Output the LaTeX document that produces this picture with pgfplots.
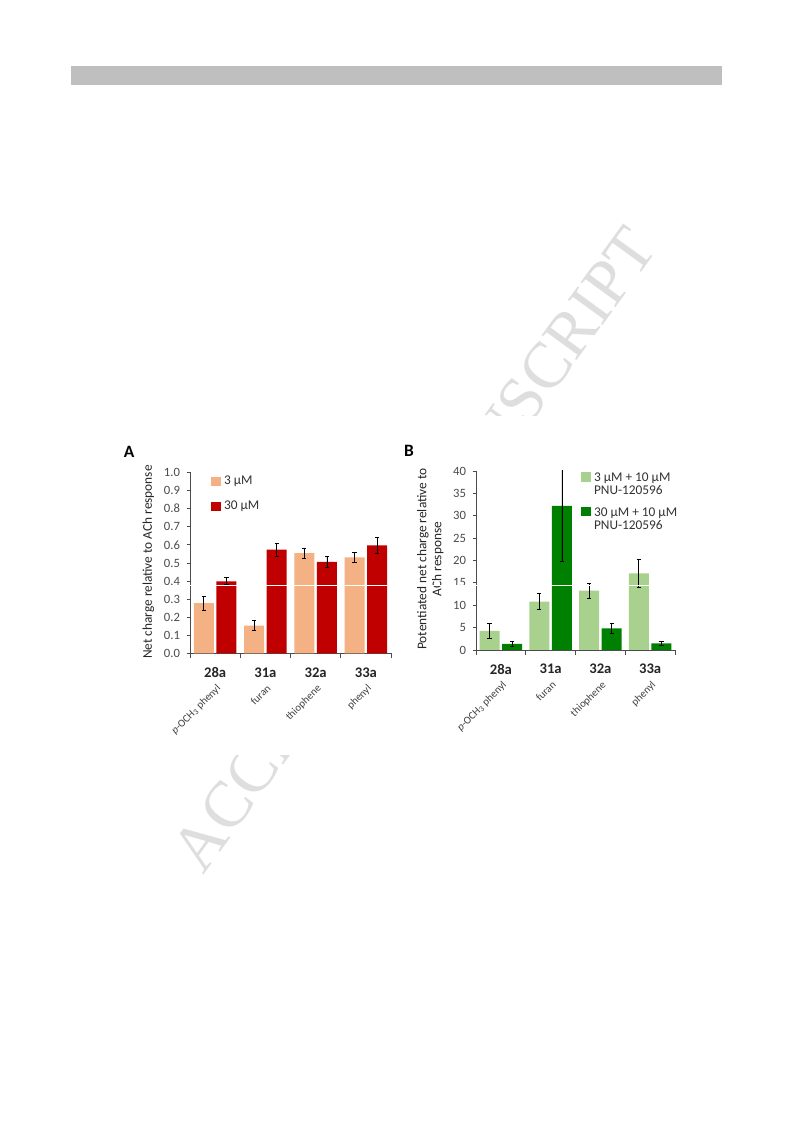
\documentclass[border=0pt]{standalone}
\usepackage{pgfplots}
\pgfplotsset{compat=1.18}
\usepackage{fontspec}
\setmainfont{Carlito}
\newfontfamily\wmfont{Liberation Serif}
\definecolor{lorange}{HTML}{F4B183}
\definecolor{dred}{HTML}{C00000}
\definecolor{lgreen}{HTML}{A9D18E}
\definecolor{dgreen}{HTML}{008000}
\pgfplotsset{
  sq/.style={legend image code/.code={\fill[##1] (0pt,-3.6pt) rectangle (7.5pt,3.6pt);}},
  errs/.style={error bars/.cd, y dir=both, y explicit,
    error bar style={black, line width=0.6pt},
    error mark options={rotate=90, mark size=1.6pt, black, line width=0.6pt}},
  panel/.style={
    anchor=south west, scale only axis, ybar,
    xmin=-0.5, xmax=3.5, ymin=0,
    axis x line*=bottom, axis y line*=left,
    axis line style={black!70, line width=0.6pt},
    tick align=outside,
    major tick length=2.5pt, minor tick length=3.5pt,
    major x tick style={draw=none},
    minor x tick style={black!70, line width=0.6pt},
    y tick style={black!70, line width=0.6pt},
    xtick={0,1,2,3}, xticklabels={28a,31a,32a,33a},
    minor xtick={-0.5,0.5,1.5,2.5,3.5},
    xticklabel style={font=\bfseries\fontsize{11}{13}\selectfont, text=black!85, yshift=-4.5pt},
    yticklabel style={font=\fontsize{9.5}{11}\selectfont, text=black!70, xshift=-1.5pt},
    /pgf/number format/assume math mode=true,
    extra x ticks={0,1,2,3},
    extra x tick labels={{\textit{p}-OCH\textsubscript{3} phenyl}, furan, thiophene, phenyl},
    extra x tick style={major tick length=0pt, xticklabel style={xshift=0.5pt, yshift=-18pt, rotate=45, anchor=north east, inner sep=0pt, font=\mdseries\fontsize{8}{9}\selectfont, text=black!75}},
    ylabel style={font=\fontsize{10}{11.25}\selectfont, text=black!85, anchor=center, align=center},
    legend style={draw=none, fill=none, inner sep=0pt, font=\fontsize{10}{12}\selectfont, text=black!80, anchor=north west},
    legend cell align=left,
  }
}
\pgfplotstableread{
x y e
0 0.278 0.038
1 0.154 0.028
2 0.555 0.028
3 0.531 0.025
}\Alight
\pgfplotstableread{
x y e
0 0.399 0.020
1 0.574 0.037
2 0.506 0.030
3 0.597 0.043
}\Adark
\pgfplotstableread{
x y e
0 4.25 1.6
1 10.8 1.75
2 13.26 1.7
3 17.13 3.05
}\Blight
\pgfplotstableread{
x y e
0 1.34 0.5
1 32.2 12.4
2 4.84 1.1
3 1.49 0.5
}\Bdark
\begin{document}
\begin{tikzpicture}
\path[use as bounding box, fill=white] (0,0) rectangle (594.75pt,842.25pt);
\fill[black!25] (53.25pt,778.5pt) rectangle (541.5pt,792.75pt);
\node[rotate=54, text=black!13, font=\wmfont\fontsize{49}{49}\selectfont] at (310.5pt,430.5pt) {ACCEPTED MANUSCRIPT};
\fill[white] (75pt,276pt) rectangle (525pt,530.25pt);

\node[font=\bfseries\fontsize{13}{13}\selectfont] at (96.75pt,503.25pt) {A};
\node[font=\bfseries\fontsize{13}{13}\selectfont] at (306.75pt,504pt) {B};

\begin{axis}[panel,
  at={(142.5pt,352.125pt)}, width=150.75pt, height=135.75pt,
  ymax=1.0, ytick={0,0.1,...,1.0},
  yticklabel style={/pgf/number format/.cd, fixed, fixed zerofill, precision=1},
  ylabel={Net charge relative to ACh response},
  ylabel style={at={(axis description cs:-0.207,0.505)}},
  legend style={at={(axis description cs:0.105,0.995)}, row sep=6.5pt},
]
\addplot[bar width=15pt, bar shift=-8.5pt, fill=lorange, draw=none, sq, errs]
  table[x=x, y=y, y error=e] {\Alight};
\addlegendentry{3 µM}
\addplot[bar width=15pt, bar shift=8.5pt, fill=dred, draw=none, sq, errs]
  table[x=x, y=y, y error=e] {\Adark};
\addlegendentry{30 µM}
\end{axis}

\begin{axis}[panel,
  at={(357pt,354.75pt)}, width=149.25pt, height=134.25pt,
  ymax=40, ytick={0,5,...,40},
  ylabel={Potentiated net charge relative to\\ACh response},
  ylabel style={at={(axis description cs:-0.229,0.508)}},
  legend style={at={(axis description cs:0.528,1.02)}, row sep=12pt},
]
\addplot[bar width=15pt, bar shift=-8.5pt, fill=lgreen, draw=none, sq, errs]
  table[x=x, y=y, y error=e] {\Blight};
\addlegendentry{\begin{tabular}[t]{@{}l@{}}3 µM + 10 µM\\[-2pt]PNU-120596\end{tabular}}
\addplot[bar width=15pt, bar shift=8.5pt, fill=dgreen, draw=none, sq, errs]
  table[x=x, y=y, y error=e] {\Bdark};
\addlegendentry{\begin{tabular}[t]{@{}l@{}}30 µM + 10 µM\\[-2pt]PNU-120596\end{tabular}}
\end{axis}

\draw[white, line width=0.6pt] (82pt,403.1pt) -- (520pt,403.1pt);
\end{tikzpicture}
\end{document}
